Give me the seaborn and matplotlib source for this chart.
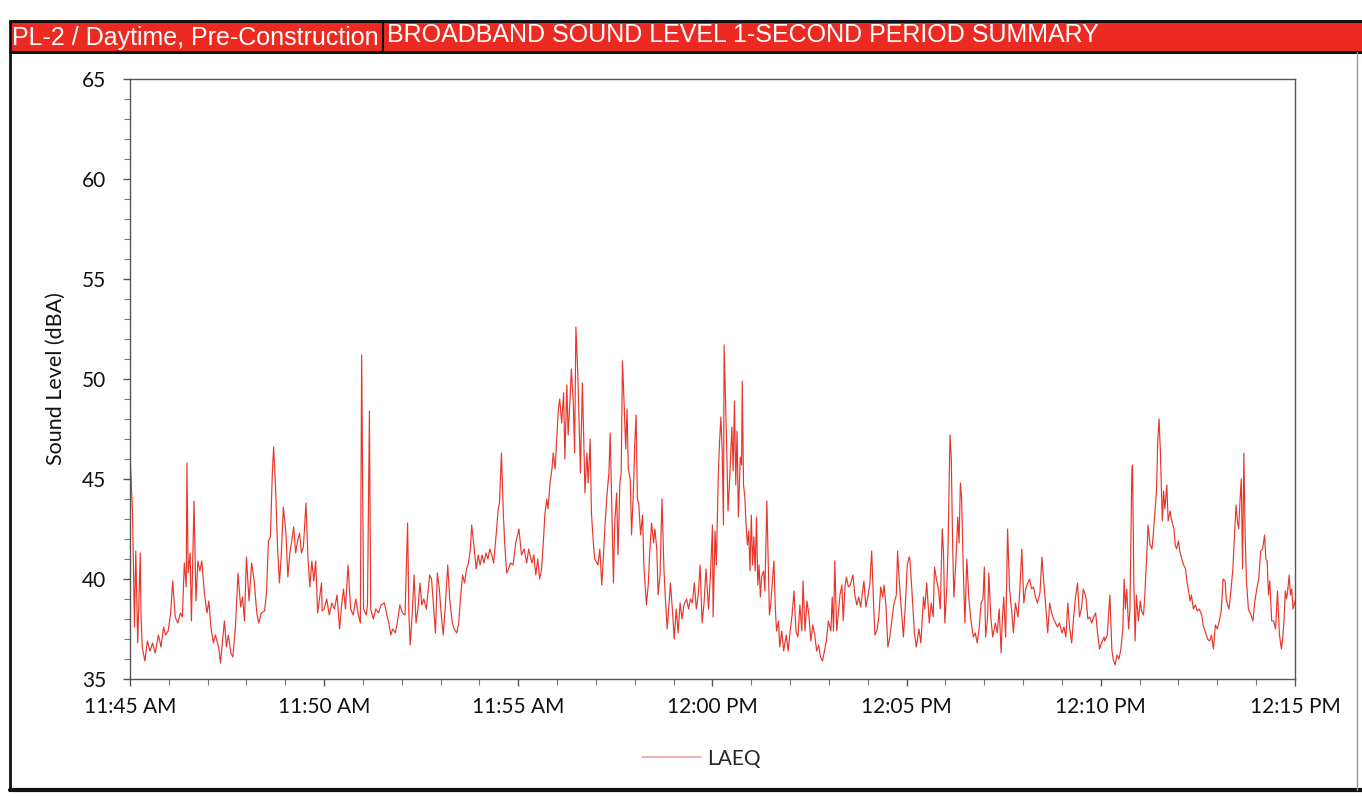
import numpy as np
import pandas as pd
import matplotlib
matplotlib.use("Agg")
import matplotlib.pyplot as plt
import matplotlib.dates as mdates
from matplotlib.lines import Line2D
from matplotlib.patches import Rectangle
import seaborn as sns

# ---------------- data (seconds after 11:45:00, LAEQ dBA) ----------------
seg1_t = [0, 4, 7, 9, 12, 16, 17, 19, 23, 27, 31, 35, 39, 44, 48, 52, 55, 59, 63, 66,
          70, 74, 78, 81, 84, 87, 88, 90, 93, 95, 99, 102, 105, 108, 111, 115, 119, 122, 125, 129,
          132, 137, 140, 143, 146, 149, 152, 156, 159, 163, 167, 171, 174, 177, 180, 184, 188, 192, 196, 199,
          203, 208, 211, 214, 217, 220, 222, 225, 228, 231, 234, 237, 241, 244, 247, 250, 253, 256, 259, 262,
          265, 268, 272, 275, 278, 281, 284, 287, 290, 294, 297]
seg1_db = [46.4, 43.3, 37.6, 41.4, 36.8, 41.3, 38.3, 36.6, 35.9, 36.9, 36.4, 36.8, 36.3, 37.2, 36.6, 37.6, 37.2, 37.4, 38.3, 39.9,
           38.1, 37.8, 38.3, 38.1, 40.8, 39.6, 45.8, 40.3, 41.3, 37.9, 43.9, 38.9, 40.9, 40.4, 40.9, 39.3, 38.3, 38.9, 37.6, 36.8,
           37.2, 36.6, 35.8, 36.9, 37.9, 36.6, 37.2, 36.3, 36.1, 37.6, 40.3, 38.6, 39.1, 37.9, 41.1, 38.9, 40.8, 39.9, 38.3, 37.8,
           38.3, 38.4, 39.3, 41.9, 42.1, 45.3, 46.6, 44.6, 41.6, 39.8, 41.3, 43.6, 42.3, 40.1, 41.3, 41.9, 42.6, 41.3, 41.9, 42.3,
           41.3, 41.6, 43.8, 41.1, 39.6, 40.9, 39.9, 40.9, 38.3, 39.3, 38.4]

seg2_t = [296, 300, 304, 308, 312, 316, 320, 324, 327, 330, 333, 337, 341, 345, 349, 353, 356, 358, 361, 365,
          367, 370, 372, 376, 380, 384, 388, 393, 397, 400, 403, 406, 410, 413, 417, 421, 425, 429, 431, 433,
          436, 439, 442, 445, 448, 451, 454, 458, 463, 466, 470, 472, 475, 478, 481, 484, 487, 491, 494, 498,
          501, 505, 508, 511, 514, 517, 520, 523, 526, 528, 532, 535, 538, 541, 544, 547, 550, 553, 556, 559,
          562, 566, 569, 571, 574, 577, 579, 582, 585, 588, 592, 596, 601]
seg2_db = [39.8, 38.5, 39.0, 38.2, 38.8, 38.5, 39.2, 37.5, 38.7, 39.5, 38.5, 40.7, 38.5, 38.2, 39.0, 38.2, 37.8, 51.2, 38.5, 38.2,
           38.7, 48.4, 38.5, 38.0, 38.5, 38.3, 38.7, 38.8, 38.2, 37.8, 37.2, 37.5, 37.3, 37.8, 38.7, 38.3, 38.2, 42.8, 38.2, 36.7,
           38.2, 40.2, 37.8, 38.5, 39.8, 38.7, 39.0, 38.5, 40.2, 40.0, 38.2, 37.3, 40.3, 39.5, 38.2, 37.2, 38.5, 40.7, 39.0, 37.8,
           37.5, 37.3, 37.8, 39.2, 40.2, 39.8, 40.5, 40.8, 41.5, 42.7, 41.5, 40.5, 41.2, 40.7, 41.2, 40.8, 41.3, 41.0, 41.5, 41.2,
           40.8, 42.3, 43.5, 43.8, 46.3, 43.2, 41.8, 40.3, 40.5, 40.8, 40.7, 41.8, 42.5]

seg3_t = [605, 609, 613, 616, 621, 624, 627, 630, 633, 636, 639, 641, 644, 646, 649, 652, 654, 657, 659, 662,
          664, 667, 670, 672, 675, 677, 680, 682, 685, 687, 689, 692, 694, 696, 699, 701, 703, 706, 708, 711,
          713, 716, 718, 723, 726, 729, 731, 734, 737, 740, 742, 744, 747, 749, 752, 754, 757, 759, 761, 763,
          766, 768, 770, 773, 775, 778, 780, 782, 784, 786, 789, 792, 794, 796, 798, 801, 803, 806, 809, 811,
          814, 816, 819, 822, 825, 827, 830, 833, 835, 838, 841, 844, 847, 850, 853, 856, 860, 863, 866, 869,
          872, 875, 878, 881, 884, 887, 890, 894, 897, 900]
seg3_db = [41.2, 41.5, 40.8, 41.5, 40.8, 41.2, 40.2, 41.0, 40.0, 40.5, 42.0, 43.2, 44.0, 43.5, 44.8, 45.5, 46.3, 45.5, 46.8, 48.5,
           49.0, 47.8, 49.3, 46.0, 49.7, 47.2, 49.0, 50.5, 48.8, 46.3, 52.6, 50.2, 47.7, 45.3, 49.8, 47.2, 44.3, 46.3, 44.8, 47.0,
           43.3, 41.8, 41.0, 40.7, 41.5, 39.7, 40.8, 42.7, 44.2, 45.3, 47.3, 44.2, 39.8, 42.8, 44.3, 41.2, 44.8, 45.3, 50.9, 49.2,
           46.5, 48.5, 45.5, 45.0, 42.2, 44.5, 46.8, 48.2, 44.0, 43.8, 42.2, 43.2, 40.7, 39.7, 38.7, 39.8, 41.3, 42.8, 41.8, 42.5,
           41.5, 39.2, 40.2, 44.0, 40.5, 39.2, 37.5, 38.8, 39.8, 38.5, 37.0, 38.5, 37.3, 38.8, 38.0, 38.7, 39.0, 38.5, 39.0, 38.8,
           39.8, 38.5, 39.2, 40.7, 37.8, 38.8, 40.5, 38.5, 40.3, 42.7]

seg4_t = [901, 904, 906, 909, 911, 913, 915, 917, 918, 920, 922, 924, 926, 928, 930, 932, 934, 936, 938, 940,
          943, 945, 946, 948, 950, 952, 954, 956, 958, 960, 962, 964, 966, 968, 970, 972, 974, 976, 979, 981,
          984, 986, 988, 990, 993, 995, 997, 999, 1002, 1004, 1007, 1010, 1014, 1017, 1020, 1023, 1026, 1029, 1032, 1035,
          1038, 1040, 1043, 1046, 1049, 1052, 1055, 1058, 1061, 1064, 1067, 1070, 1073, 1076, 1079, 1083, 1085, 1087, 1089, 1092,
          1094, 1097, 1100, 1102, 1105, 1107, 1110, 1113, 1117, 1120, 1123, 1126, 1129, 1132, 1134, 1137, 1140, 1143, 1146, 1149,
          1151, 1154, 1157, 1160, 1163, 1165, 1168, 1171, 1174, 1177, 1180, 1184, 1186, 1189, 1192, 1195, 1198, 1201, 1204]
seg4_db = [38.1, 42.4, 40.7, 45.2, 46.9, 48.1, 46.4, 42.7, 51.7, 49.1, 46.6, 43.4, 44.6, 46.1, 47.6, 45.4, 48.9, 44.7, 47.4, 43.1,
           46.1, 45.7, 49.9, 44.7, 44.1, 42.7, 41.7, 42.4, 40.4, 43.2, 40.7, 42.1, 40.4, 43.1, 39.7, 40.7, 39.1, 40.1, 40.4, 39.4,
           43.9, 41.1, 38.2, 38.7, 40.1, 40.9, 38.6, 37.4, 37.9, 36.6, 37.4, 36.4, 37.2, 36.4, 37.4, 38.2, 39.4, 37.4, 37.1, 38.7,
           37.4, 39.9, 37.4, 38.9, 38.2, 36.9, 37.7, 37.2, 36.4, 36.7, 36.1, 35.9, 36.4, 36.9, 37.9, 37.4, 39.1, 37.4, 40.9, 37.4,
           38.1, 39.2, 39.7, 37.9, 39.7, 40.1, 39.6, 39.7, 40.2, 39.2, 38.7, 39.1, 38.6, 39.4, 39.9, 38.6, 39.1, 39.7, 41.4, 38.7,
           37.2, 37.4, 38.1, 39.6, 39.1, 39.7, 38.7, 36.6, 37.1, 37.9, 38.7, 39.2, 41.4, 39.7, 38.4, 37.1, 38.7, 40.7, 41.1]

seg5_t = [1205, 1208, 1212, 1215, 1219, 1222, 1226, 1228, 1231, 1235, 1238, 1241, 1243, 1246, 1249, 1252, 1255, 1257, 1259, 1262,
          1264, 1267, 1269, 1271, 1273, 1276, 1279, 1281, 1283, 1285, 1287, 1290, 1293, 1296, 1299, 1303, 1306, 1309, 1312, 1315,
          1318, 1320, 1322, 1325, 1327, 1330, 1333, 1337, 1340, 1343, 1346, 1348, 1350, 1353, 1356, 1359, 1362, 1365, 1368, 1372,
          1375, 1378, 1381, 1384, 1387, 1390, 1393, 1396, 1399, 1402, 1406, 1409, 1412, 1415, 1418, 1421, 1424, 1427, 1430, 1433,
          1436, 1440, 1443, 1446, 1449, 1452, 1455, 1458, 1461, 1464, 1467, 1470, 1473, 1477, 1480, 1483, 1486, 1489, 1492, 1495,
          1498, 1501, 1505]
seg5_db = [41.0, 39.5, 37.3, 36.6, 37.5, 36.8, 39.1, 38.5, 39.8, 37.8, 38.8, 38.1, 40.6, 40.0, 39.5, 38.5, 42.5, 41.3, 37.8, 39.5,
           41.6, 47.2, 46.0, 41.8, 39.1, 40.8, 43.1, 41.8, 44.8, 44.0, 41.1, 37.8, 41.0, 39.1, 38.0, 37.1, 37.3, 36.8, 37.5, 38.8,
           39.0, 40.6, 37.1, 38.0, 40.3, 38.1, 37.1, 37.8, 37.3, 38.5, 36.3, 38.1, 39.1, 37.1, 42.5, 39.5, 38.5, 37.3, 38.8, 38.1,
           39.5, 41.5, 38.8, 39.5, 39.8, 40.0, 39.5, 39.6, 39.1, 38.8, 39.3, 41.1, 39.8, 38.6, 37.3, 38.8, 38.3, 38.0, 37.8, 37.6,
           37.8, 37.3, 37.6, 37.1, 38.8, 37.5, 36.8, 38.1, 39.1, 39.8, 38.1, 38.5, 39.5, 39.1, 38.0, 38.1, 37.8, 38.1, 38.3, 37.3,
           36.5, 36.8, 37.1]

seg6_t = [1506, 1510, 1514, 1517, 1519, 1522, 1525, 1528, 1531, 1534, 1536, 1538, 1540, 1543, 1545, 1548, 1549, 1551, 1553, 1555,
          1558, 1561, 1563, 1566, 1568, 1571, 1573, 1576, 1579, 1581, 1584, 1586, 1588, 1590, 1592, 1595, 1597, 1599, 1602, 1604,
          1607, 1609, 1613, 1615, 1617, 1620, 1622, 1625, 1628, 1631, 1633, 1635, 1638, 1640, 1643, 1646, 1649, 1652, 1656, 1658,
          1661, 1665, 1668, 1671, 1674, 1677, 1680, 1683, 1686, 1689, 1692, 1694, 1698, 1701, 1704, 1707, 1709, 1711, 1713, 1715,
          1717, 1719, 1721, 1723, 1725, 1728, 1732, 1735, 1738, 1741, 1744, 1747, 1750, 1753, 1755, 1757, 1759, 1761, 1764, 1767,
          1770, 1773, 1776, 1779, 1781, 1783, 1785, 1787, 1789, 1791, 1793, 1795, 1797, 1800]
seg6_db = [36.9, 37.2, 39.2, 36.5, 36.0, 35.7, 36.2, 36.0, 36.5, 37.5, 40.0, 38.5, 39.5, 37.5, 38.5, 45.5, 45.7, 39.9, 36.9, 39.2,
           37.9, 38.9, 38.4, 38.2, 39.2, 41.2, 42.7, 41.7, 41.5, 42.2, 43.5, 44.4, 46.9, 48.0, 46.4, 42.9, 44.4, 43.5, 44.7, 42.9,
           43.4, 43.0, 42.5, 41.7, 41.5, 41.9, 41.4, 41.0, 40.7, 40.5, 39.9, 39.5, 38.9, 39.2, 38.5, 38.7, 38.4, 38.5, 38.2, 37.7,
           37.4, 37.0, 36.9, 37.2, 36.5, 37.7, 37.5, 37.9, 38.4, 40.0, 39.9, 38.9, 38.5, 39.4, 40.5, 42.5, 43.7, 42.9, 42.5, 43.9,
           45.0, 40.5, 46.3, 42.2, 39.9, 38.5, 38.2, 37.9, 38.9, 39.5, 40.0, 41.4, 41.5, 42.2, 41.0, 40.9, 39.2, 39.9, 37.9, 37.9,
           37.5, 39.4, 37.2, 36.5, 37.0, 37.9, 39.4, 39.0, 39.5, 40.2, 39.2, 39.5, 38.5, 38.9]

y_ticks = [35, 40, 45, 50, 55, 60, 65]
series_name = "LAEQ"
header_left = "PL-2 / Daytime, Pre-Construction"
header_right = "BROADBAND SOUND LEVEL 1-SECOND PERIOD SUMMARY"
y_label = "Sound Level (dBA)"

# ---------------- build frame ----------------
secs = seg1_t + seg2_t + seg3_t + seg4_t + seg5_t + seg6_t
vals = seg1_db + seg2_db + seg3_db + seg4_db + seg5_db + seg6_db
start = pd.Timestamp("2020-01-01 11:45:00")
df = pd.DataFrame({"time": start + pd.to_timedelta(secs, unit="s"), "LAEQ": vals})

sns.set_theme(style="white")
plt.rcParams["font.family"] = ["Lato", "DejaVu Sans"]

fig = plt.figure(figsize=(13.62, 7.96), dpi=100)
ax = fig.add_axes([0.0954, 0.147, 0.9508 - 0.0954, 0.9008 - 0.147])

line_color = "#e8362c"
sns.lineplot(data=df, x="time", y="LAEQ", ax=ax, color=line_color, linewidth=0.85,
             estimator=None, legend=False)

ax.set_xlim(start, start + pd.Timedelta(minutes=30))
ax.set_ylim(35, 65)
ax.set_yticks(y_ticks)
ax.yaxis.set_minor_locator(matplotlib.ticker.MultipleLocator(1))
ax.xaxis.set_major_locator(mdates.MinuteLocator(byminute=range(0, 60, 5)))
ax.xaxis.set_minor_locator(mdates.MinuteLocator())


def fmt_time(x, pos=None):
    d = mdates.num2date(x)
    h = d.hour % 12 or 12
    return f"{h}:{d.minute:02d} {'AM' if d.hour < 12 else 'PM'}"


ax.xaxis.set_major_formatter(matplotlib.ticker.FuncFormatter(fmt_time))
ax.set_xlabel("")
ax.set_ylabel(y_label, fontsize=15.5, color="#111111", labelpad=12)
ax.tick_params(axis="both", which="major", direction="out", length=5, width=1,
               color="#555555", labelsize=15, labelcolor="#111111", bottom=True, left=True)
ax.tick_params(axis="both", which="minor", direction="out", length=4, width=0.8,
               color="#777777", bottom=True, left=True)
ax.tick_params(axis="x", which="major", pad=8)
ax.tick_params(axis="y", which="major", pad=12)
for sp in ax.spines.values():
    sp.set_color("#555555")
    sp.set_linewidth(1.0)
    sp.set_visible(True)

# legend
handle = Line2D([0], [0], color="#f2a19a", linewidth=1.2)
fig.legend([handle], [series_name], loc="center", bbox_to_anchor=(0.515, 0.047),
           frameon=False, fontsize=15, handlelength=2.8, handletextpad=0.3)

# ---------------- header band & frame ----------------
red = "#ec2a22"
band_bottom, band_top = 1 - 52 / 796, 1 - 21 / 796
left_x, split_x, right_x = 10 / 1362, 383 / 1362, 1.0
fig.patches.append(Rectangle((left_x, band_bottom), right_x - left_x, band_top - band_bottom,
                             transform=fig.transFigure, facecolor=red, edgecolor="none", zorder=0))
fig.add_artist(Line2D([left_x, 1.0], [band_top, band_top], transform=fig.transFigure,
                      color="#111111", linewidth=2.2))
fig.add_artist(Line2D([left_x, 1.0], [band_bottom, band_bottom], transform=fig.transFigure,
                      color="#111111", linewidth=2.2))
fig.add_artist(Line2D([split_x, split_x], [band_bottom, band_top], transform=fig.transFigure,
                      color="#111111", linewidth=1.5))
fig.add_artist(Line2D([left_x, left_x], [1 - 790 / 796, band_top], transform=fig.transFigure,
                      color="#111111", linewidth=2.0))
fig.add_artist(Line2D([left_x, 1.0], [1 - 790 / 796, 1 - 790 / 796], transform=fig.transFigure,
                      color="#111111", linewidth=3.0))
fig.add_artist(Line2D([1357 / 1362, 1357 / 1362], [1 - 790 / 796, band_bottom], transform=fig.transFigure,
                      color="#999999", linewidth=1.0))

mid = (band_top + band_bottom) / 2
fig.text(12 / 1362, mid - 0.002, header_left, color="white", fontsize=18, va="center", ha="left",
         family=["Liberation Sans", "DejaVu Sans"])
fig.text(387 / 1362, mid + 0.002, header_right, color="white", fontsize=18, va="center", ha="left",
         family=["Liberation Sans", "DejaVu Sans"])

fig.savefig("out.png", dpi=100, facecolor="white")
